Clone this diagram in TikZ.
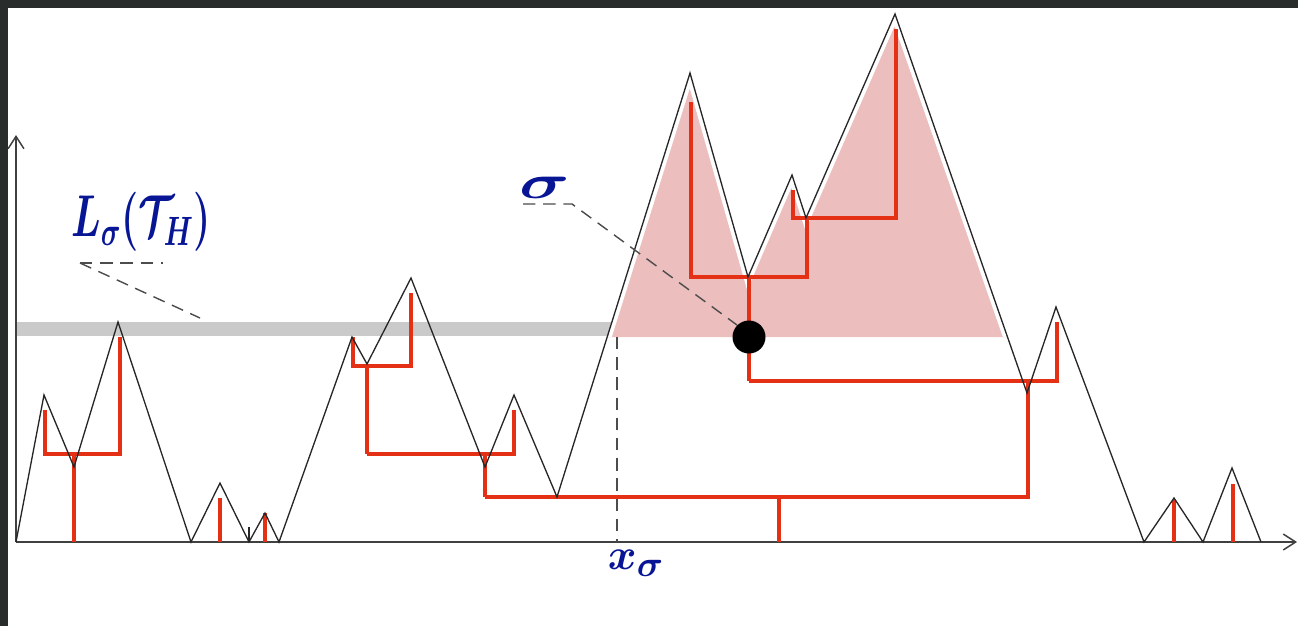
\documentclass[tikz,border=0pt]{standalone}
\usepackage{amsmath,amssymb}
\usepackage{tikz}
\usetikzlibrary{arrows.meta, calc}
\usepackage{xcolor}

\definecolor{treered}{RGB}{228,48,20}
\definecolor{excpink}{RGB}{236,190,189}
\definecolor{bandgrey}{RGB}{202,202,202}
\definecolor{handblue}{RGB}{8,22,150}
\definecolor{framedark}{RGB}{40,44,42}

\begin{document}
\begin{tikzpicture}[x=0.02cm, y=-0.02cm, every node/.style={inner sep=0pt}]
  % styles
  \tikzstyle{walk}=[draw=black!85, line width=0.75pt, line join=miter]
  \tikzstyle{tree}=[draw=treered, line width=1.85pt]
  \tikzstyle{axis}=[draw=black!75, line width=0.85pt, -{Straight Barb[length=7pt, width=9pt]}]
  \tikzstyle{pointer}=[draw=black!70, line width=0.8pt, dash pattern=on 7pt off 4.5pt]
  \tikzstyle{hand}=[text=handblue, font=\boldmath]

  \useasboundingbox (0,0) rectangle (1298,626);
  \fill[white] (0,0) rectangle (1298,626);
  \fill[framedark] (0,0) rectangle (1298,8);
  \fill[framedark] (0,0) rectangle (8,626);

  % level band
  \fill[bandgrey] (16,322) rectangle (617,336);

  % excursion above the level
  \fill[excpink] (607,337) -- (690,73) -- (748,277) -- (792,175) -- (806,218)
    -- (895,14) -- (1007,337) -- cycle;
  \begin{scope}
    \clip (607,337) -- (690,73) -- (748,277) -- (792,175) -- (806,218)
      -- (895,14) -- (1007,337) -- cycle;
    \draw[white, line width=5pt] (557,497) -- (690,73) -- (748,277) -- (792,175)
      -- (806,218) -- (895,14) -- (1027,393);
  \end{scope}

  % axes
  \coordinate (O) at (16,542);
  \draw[axis] (O) -- (16,135);
  \draw[axis] (O) -- (1297,542);

  % tree
  \draw[tree] (74,542) -- (74,454);
  \draw[tree] (45,410) -- (45,454) -- (120,454) -- (120,337);
  \draw[tree] (220,542) -- (220,498);
  \draw[tree] (265,542) -- (265,513);
  \draw[tree] (353,337) -- (353,366) -- (411,366) -- (411,293);
  \draw[tree] (367,366) -- (367,454);
  \draw[tree] (367,454) -- (514,454) -- (514,410);
  \draw[tree] (485,454) -- (485,497);
  \draw[tree] (485,497) -- (1028,497) -- (1028,381);
  \draw[tree] (779,497) -- (779,542);
  \draw[tree] (749,381) -- (1057,381) -- (1057,322);
  \draw[tree] (749,381) -- (749,277);
  \draw[tree] (691,102) -- (691,277) -- (807,277) -- (807,218);
  \draw[tree] (793,190) -- (793,218) -- (896,218) -- (896,29);
  \draw[tree] (1174,542) -- (1174,500);
  \draw[tree] (1233,542) -- (1233,484);

  % walk
  \draw[walk] (16,542) -- (44,395) -- (74,467) -- (118,322) -- (191,542)
    -- (220,483) -- (249,542) -- (265,513) -- (279,542) -- (352,337)
    -- (367,364) -- (411,278) -- (485,467) -- (514,395) -- (557,497)
    -- (690,73) -- (748,277) -- (792,175) -- (806,218) -- (895,14)
    -- (1027,393) -- (1056,307) -- (1144,542) -- (1174,498) -- (1203,542)
    -- (1232,468) -- (1261,542);
  \draw[walk] (249,542) -- (249,527);

  % marked vertex
  \node (sigdot) [circle, fill=black, minimum size=0.66cm] at (749,337) {};

  % labels
  \node (Lsig) [hand] at (141,222)
    {\scalebox{0.9}[1.35]{\fontsize{26}{26}\selectfont$L_\sigma(\mathcal{T}_H)$}};
  \node (sig) [hand] at (545,188)
    {\scalebox{1.6}[1.1]{\fontsize{26}{26}\selectfont$\sigma$}};
  \node (xsig) [hand] at (636,563)
    {\fontsize{30}{30}\selectfont$x_\sigma$};

  % pointers
  \coordinate (Lend) at (80,263);
  \coordinate (sigend) at (572,204);
  \draw[pointer] (Lend) -- (163,263);
  \draw[pointer] (Lend) -- (200,318);
  \draw[pointer] (523,204) -- (sigend) -- (sigdot.north west);
  \draw[pointer] (617,337) -- (617,542);
\end{tikzpicture}
\end{document}
